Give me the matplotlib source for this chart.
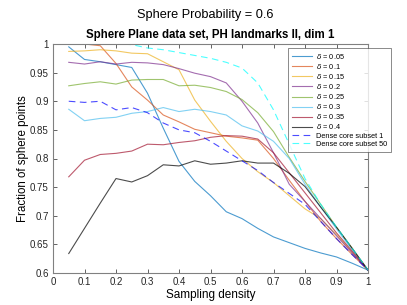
import numpy as np
import matplotlib
matplotlib.use("Agg")
import matplotlib.pyplot as plt

plt.rcParams['font.family'] = ['Liberation Sans', 'DejaVu Sans']
plt.rcParams['mathtext.fontset'] = 'dejavusans'

# sampling densities
density = [0.05, 0.1, 0.15, 0.2, 0.25, 0.3, 0.35, 0.4, 0.45, 0.5,
           0.55, 0.6, 0.65, 0.7, 0.75, 0.8, 0.85, 0.9, 0.95, 1.0]

# fraction of sphere points, one list per delta
d005 = [0.995, 0.973, 0.969, 0.964, 0.959, 0.914, 0.853, 0.795, 0.760, 0.735,
        0.707, 0.695, 0.678, 0.663, 0.653, 0.643, 0.635, 0.628, 0.617, 0.605]
d010 = [1.0, 1.0, 0.997, 0.966, 0.925, 0.902, 0.876, 0.864, 0.851, 0.845,
        0.839, 0.836, 0.832, 0.800, 0.762, 0.725, 0.690, 0.660, 0.632, 0.605]
d015 = [0.987, 0.988, 0.990, 0.988, 0.984, 0.983, 0.969, 0.955, 0.902, 0.865,
        0.830, 0.800, 0.777, 0.758, 0.735, 0.712, 0.695, 0.667, 0.636, 0.605]
d020 = [0.968, 0.965, 0.969, 0.965, 0.968, 0.967, 0.964, 0.957, 0.949, 0.943,
        0.932, 0.900, 0.862, 0.810, 0.755, 0.725, 0.695, 0.665, 0.635, 0.605]
d025 = [0.927, 0.931, 0.934, 0.930, 0.937, 0.938, 0.938, 0.927, 0.928, 0.924,
        0.917, 0.903, 0.880, 0.847, 0.802, 0.760, 0.720, 0.680, 0.643, 0.605]
d030 = [0.886, 0.866, 0.870, 0.872, 0.879, 0.882, 0.889, 0.882, 0.886, 0.882,
        0.876, 0.857, 0.848, 0.830, 0.800, 0.755, 0.715, 0.677, 0.640, 0.605]
d035 = [0.768, 0.797, 0.807, 0.809, 0.813, 0.825, 0.824, 0.828, 0.831, 0.837,
        0.840, 0.839, 0.834, 0.810, 0.775, 0.740, 0.705, 0.670, 0.638, 0.605]
d040 = [0.634, 0.678, 0.722, 0.765, 0.759, 0.770, 0.789, 0.787, 0.796, 0.790,
        0.792, 0.796, 0.792, 0.792, 0.774, 0.751, 0.715, 0.680, 0.643, 0.605]
dense1 = [0.900, 0.898, 0.900, 0.885, 0.889, 0.880, 0.862, 0.850, 0.845, 0.830,
          0.813, 0.796, 0.779, 0.758, 0.739, 0.720, 0.690, 0.660, 0.632, 0.605]
dense50 = [1.0, 1.0, 1.0, 1.0, 0.999, 0.993, 0.990, 0.985, 0.980, 0.975,
           0.968, 0.958, 0.932, 0.885, 0.825, 0.765, 0.720, 0.680, 0.643, 0.605]

delta_series = [d005, d010, d015, d020, d025, d030, d035, d040]
delta_labels = ["0.05", "0.1", "0.15", "0.2", "0.25", "0.3", "0.35", "0.4"]
colors = ['#0072BD', '#D95319', '#EDB120', '#7E2F8E',
          '#77AC30', '#4DBEEE', '#A2142F', '#000000']

fig = plt.figure(figsize=(4.07, 3.05), dpi=100)
ax = fig.add_axes([53/407, 1 - 273/305, 315/407, 229/305])

for vals, lab, c in zip(delta_series, delta_labels, colors):
    ax.plot(density, vals, color=c, alpha=0.7, lw=0.8,
            label=r"$\delta$ = " + lab)
ax.plot(density, dense1, color='#0000FF', alpha=0.7, lw=0.8,
        linestyle=(0, (6, 4)), label="Dense core subset 1")
ax.plot(density, dense50, color='#00FFFF', alpha=0.7, lw=0.8,
        linestyle=(0, (6, 4)), label="Dense core subset 50")

ax.set_xlim(0, 1)
ax.set_ylim(0.6, 1)
ax.set_xticks(np.arange(0, 1.01, 0.1))
ax.set_xticklabels(["0", "0.1", "0.2", "0.3", "0.4", "0.5",
                    "0.6", "0.7", "0.8", "0.9", "1"])
ax.set_yticks(np.arange(0.6, 1.001, 0.05))
ax.set_yticklabels(["0.6", "0.65", "0.7", "0.75", "0.8",
                    "0.85", "0.9", "0.95", "1"])
ax.tick_params(direction='in', length=3, width=0.5, labelsize=7,
               top=True, right=True, colors='#262626', pad=3)
for s in ax.spines.values():
    s.set_color('#808080')
    s.set_linewidth(0.8)

ax.set_xlabel("Sampling density", fontsize=8.5, labelpad=1)
ax.set_ylabel("Fraction of sphere points", fontsize=8.3)
ax.yaxis.set_label_coords(-0.076, 0.5)
ax.set_title("Sphere Plane data set, PH landmarks II, dim 1",
             fontsize=8.3, fontweight='bold', pad=4)
fig.text(0.503, 1 - 15/305, "Sphere Probability = 0.6", ha='center',
         va='center', fontsize=9.2)

leg = ax.legend(loc='upper left', bbox_to_anchor=(288/407, 1 - 48/305),
                bbox_transform=fig.transFigure, fontsize=5.3,
                fancybox=False, handlelength=2.8, handletextpad=0.5,
                labelspacing=0.15, borderpad=0.5, borderaxespad=0)
leg.get_frame().set_edgecolor('#333333')
leg.get_frame().set_linewidth(0.5)

fig.savefig("out.png", dpi=100)
